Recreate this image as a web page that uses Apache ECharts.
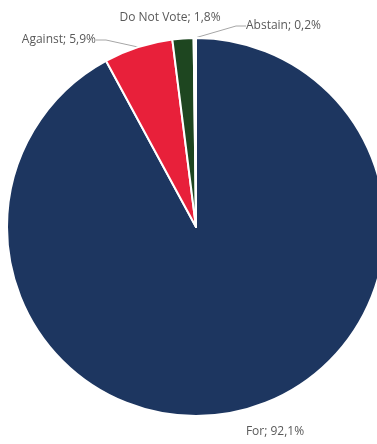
<!DOCTYPE html>
<html>
<head>
<meta charset="utf-8">
<script src="https://cdn.jsdelivr.net/npm/echarts@6/dist/echarts.min.js"></script>
<style>
  html, body { margin: 0; padding: 0; background: #fff; }
  #chart { width: 377px; height: 444px; }
</style>
</head>
<body>
<div id="chart"></div>
<script>
// categories in clockwise order from 12 o'clock
const categories = ["For", "Against", "Do Not Vote", "Abstain"];
const shares = [92.1, 5.9, 1.8, 0.2];
const colors = ["#1d3660", "#e8203a", "#1e4620", "#f2f2f2"];

// where each label sits (x, y, align)
const labelSpots = [
  { x: 275, y: 432, align: "center" },
  { x: 96, y: 40, align: "right" },
  { x: 170, y: 18, align: "center" },
  { x: 246, y: 26, align: "left" },
];
const showLine = [false, true, false, true];

const chart = echarts.init(document.getElementById("chart"));

const data = categories.map((name, i) => ({
  name: name,
  value: shares[i],
  itemStyle: { color: colors[i] },
  labelLine: { show: showLine[i] },
}));

const option = {
  animation: false,
  series: [
    {
      type: "pie",
      center: [196, 227],
      radius: ["0%", 189],
      startAngle: 90,
      clockwise: true,
      avoidLabelOverlap: false,
      itemStyle: { borderColor: "#fff", borderWidth: 2 },
      label: {
        show: true,
        position: "outside",
        color: "#595959",
        fontSize: 12,
        fontFamily: "Open Sans",
        formatter: (p) => p.name + "; " + String(p.value).replace(".", ",") + "%",
      },
      labelLine: {
        show: true,
        length: 10,
        length2: 10,
        lineStyle: { color: "#a6a6a6", width: 1 },
      },
      labelLayout: (params) => {
        const s = labelSpots[params.dataIndex];
        return { x: s.x, y: s.y, align: s.align, verticalAlign: "middle" };
      },
      data: data,
    },
  ],
};

chart.setOption(option);
</script>
</body>
</html>
